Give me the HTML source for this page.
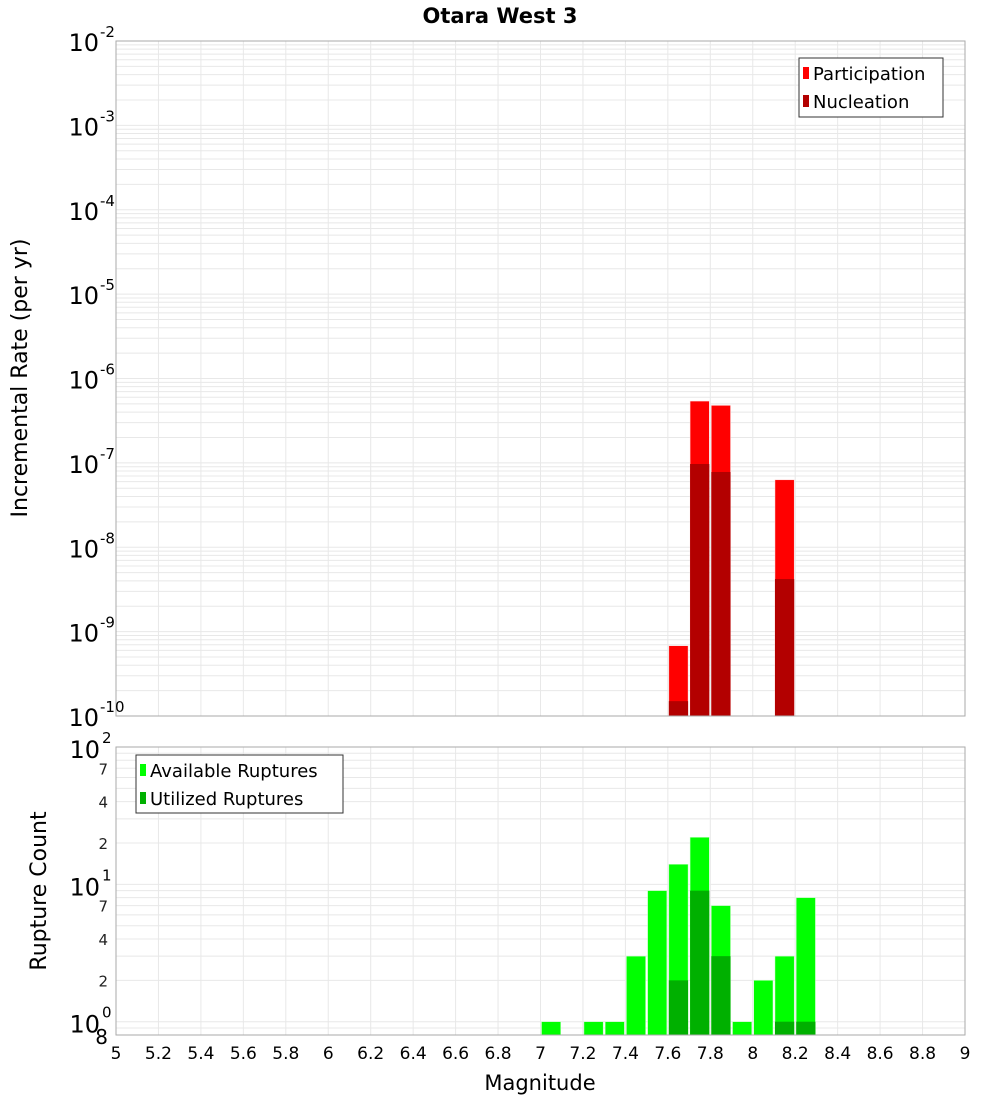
<!DOCTYPE html>
<html><head><meta charset="utf-8"><style>
body{margin:0;background:#fff;font-family:"Liberation Sans","DejaVu Sans",sans-serif}
svg text{font-family:"DejaVu Sans","Liberation Sans",sans-serif}
</style></head><body>
<svg id="c" width="1000" height="1100" xmlns="http://www.w3.org/2000/svg">
<text x="500" y="23" text-anchor="middle" font-size="21" font-weight="bold">Otara West 3</text>
<g id="topPlot"></g>
<g id="botPlot"></g>
<g id="borders"></g>
<text transform="translate(27,378) rotate(-90)" text-anchor="middle" font-size="22">Incremental Rate (per yr)</text>
<text transform="translate(46,891) rotate(-90)" text-anchor="middle" font-size="22">Rupture Count</text>
<text x="540" y="1090" text-anchor="middle" font-size="21">Magnitude</text>
<g>
<rect x="799" y="58" width="144" height="59" fill="#fff" stroke="#333"/>
<rect x="803" y="67" width="6" height="12" fill="#ff0000"/>
<text x="813" y="80" font-size="18">Participation</text>
<rect x="803" y="95" width="6" height="12" fill="#b30000"/>
<text x="813" y="108" font-size="18">Nucleation</text>
</g>
<g>
<rect x="136" y="755" width="207" height="58" fill="#fff" stroke="#333"/>
<rect x="140" y="764" width="6" height="12" fill="#00ff00"/>
<text x="150" y="777" font-size="18">Available Ruptures</text>
<rect x="140" y="792" width="6" height="12" fill="#00b000"/>
<text x="150" y="805" font-size="18">Utilized Ruptures</text>
</g>
</svg>
<script>
const xTicks=[5,5.2,5.4,5.6,5.8,6,6.2,6.4,6.6,6.8,7,7.2,7.4,7.6,7.8,8,8.2,8.4,8.6,8.8,9];
const topBins=[7.6,7.7,7.8,8.1];
const participation=[6.8e-10,5.4e-7,4.8e-7,6.3e-8];
const nucleation=[1.5e-10,9.7e-8,7.8e-8,4.2e-9];
const botBins=[7.0,7.2,7.3,7.4,7.5,7.6,7.7,7.8,7.9,8.0,8.1,8.2];
const available=[1,1,1,3,9,14,22,7,1,2,3,8];
const utilized=[0,0,0,0,0,2,9,3,0,0,1,1];
const topExps=[-10,-9,-8,-7,-6,-5,-4,-3,-2];
const botMinorLabels=[2,4,7,20,40,70];
const NS='http://www.w3.org/2000/svg';
const X0=116,X1=965;
const xs=m=>X0+(m-5)/4*(X1-X0);
const TY0=41,TY1=716;
const ty=v=>TY0+(-2-Math.log10(v))/8*(TY1-TY0);
const BY0=747,BY1=1035,BMIN=0.8,BMAX=100;
const by=v=>BY0+(Math.log10(BMAX)-Math.log10(v))/(Math.log10(BMAX)-Math.log10(BMIN))*(BY1-BY0);
function mk(p,t,a){const e=document.createElementNS(NS,t);for(const k in a)e.setAttribute(k,a[k]);p.appendChild(e);return e;}
const svgEl=document.getElementById('c');
const topG=document.getElementById('topPlot'),botG=document.getElementById('botPlot'),bordG=document.getElementById('borders');
function vgrid(g,y0,y1){xTicks.forEach(m=>{const l=mk(g,'line',{x1:xs(m),x2:xs(m),y1:y0,y2:y1,stroke:'#e8e8e8'});

});}
vgrid(topG,TY0,TY1);vgrid(botG,BY0,BY1);
for(let e=-10;e<-2;e++)for(let k=1;k<10;k++){const v=k*Math.pow(10,e);const l=mk(topG,'line',{x1:X0,x2:X1,y1:ty(v),y2:ty(v),stroke:'#e8e8e8'});

}
for(let e=-1;e<2;e++)for(let k=1;k<10;k++){const v=k*Math.pow(10,e);if(v<BMIN)continue;const l=mk(botG,'line',{x1:X0,x2:X1,y1:by(v),y2:by(v),stroke:'#e8e8e8'});

}
const w=(X1-X0)/40;
topBins.forEach((m,i)=>{
const r=mk(topG,'rect',{x:xs(m)+1,y:ty(participation[i]),width:w-2,height:TY1-ty(participation[i]),fill:'#ff0000',stroke:'#ffdddd','stroke-width':0.5});


const n=mk(topG,'rect',{x:xs(m)+1,y:ty(nucleation[i]),width:w-2,height:TY1-ty(nucleation[i]),fill:'#b30000'});

});
botBins.forEach((m,i)=>{
const r=mk(botG,'rect',{x:xs(m)+1,y:by(available[i]),width:w-2,height:BY1-by(available[i]),fill:'#00ff00',stroke:'#ccffcc','stroke-width':0.5});


if(utilized[i]>0){const n=mk(botG,'rect',{x:xs(m)+1,y:by(utilized[i]),width:w-2,height:BY1-by(utilized[i]),fill:'#00b000'});

}});
[[TY0,TY1],[BY0,BY1]].forEach(([a,b])=>{const r=mk(bordG,'rect',{x:X0,y:a,width:X1-X0,height:b-a,fill:'none',stroke:'#aaa'});

});
topExps.forEach(e=>{const y=ty(Math.pow(10,e));const t=mk(svgEl,'text',{x:99,y:y+10,'text-anchor':'end','font-size':24});t.textContent='10';


const s=mk(svgEl,'text',{x:100,y:y-4,'font-size':15});s.textContent=String(e);

});
[0,1,2].forEach(e=>{const y=by(Math.pow(10,e));const t=mk(svgEl,'text',{x:100,y:y+11,'text-anchor':'end','font-size':24});t.textContent='10';


const s=mk(svgEl,'text',{x:102,y:y-4,'font-size':15});s.textContent=String(e);

});
botMinorLabels.forEach(v=>{const t=mk(svgEl,'text',{x:108,y:by(v)+6,'text-anchor':'end','font-size':15,fill:'#222'});t.textContent=String(v<10?v:v/10);

});
{const t=mk(svgEl,'text',{x:108,y:by(BMIN)+9,'text-anchor':'end','font-size':20});t.textContent='8';

}
xTicks.forEach(m=>{const t=mk(svgEl,'text',{x:xs(m),y:1059,'text-anchor':'middle','font-size':17});t.textContent=String(m);

});
</script>
</body></html>
